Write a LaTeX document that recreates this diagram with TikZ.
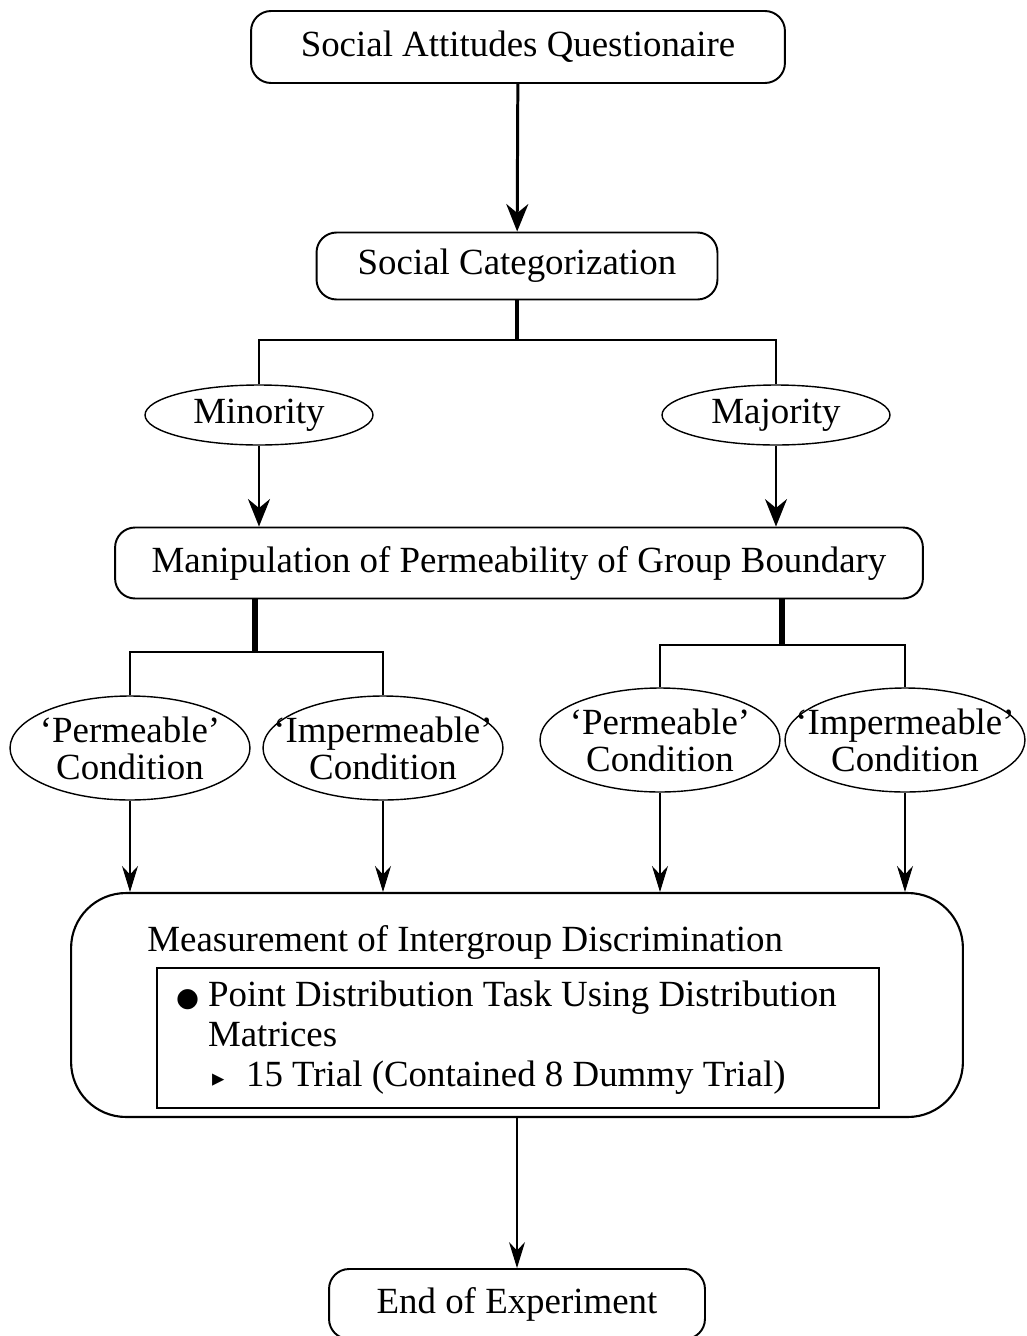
\documentclass[tikz,border=0pt]{standalone}
\usepackage{fontspec}
\setmainfont{Liberation Serif}
\newfontfamily\symfont{DejaVu Sans}
\usetikzlibrary{shapes.geometric}
\usetikzlibrary{arrows.meta}
\usetikzlibrary{positioning}

\tikzset{
  stepbox/.style={draw, line width=1.1pt, rounded corners=0.4cm, inner sep=0pt},
  groupell/.style={ellipse, draw, line width=0.8pt, inner sep=0pt, minimum width=4.56cm, minimum height=1.2cm},
  condell/.style={ellipse, draw, line width=0.8pt, inner sep=0pt, minimum width=4.8cm, minimum height=2.08cm},
  condtext/.style={align=center, inner sep=0pt},
  bigarrow/.style={-{Stealth[length=0.55cm,width=0.44cm]}},
  smallarrow/.style={-{Stealth[length=0.52cm,width=0.32cm]}, line width=0.6pt},
}

\begin{document}
\begin{tikzpicture}[x=0.02cm, y=-0.02cm, font=\fontsize{21}{21}\selectfont]
        \useasboundingbox (0,0) rectangle (1027,1336);

        % Top of the procedure
        \node[stepbox, minimum width=10.68cm, minimum height=1.44cm] (quest) at (518,47) {Social Attitudes Questionaire};
        \node[stepbox, minimum width=8.02cm, minimum height=1.34cm] (soccat) at (517,266) {Social Categorization};
        \draw[bigarrow, line width=1.7pt] (quest) -- (soccat);

        % Minority / majority split
        \node[groupell] (minor) at (259,415) {Minority};
        \node[groupell] (major) at (776,415) {Majority};
        \coordinate (split) at (soccat.south |- 0,340);
        \draw[line width=2pt] (soccat.south) -- (split);
        \draw[line width=0.8pt] (minor.north) |- (split) -| (major.north);

        \node[stepbox, minimum width=16.16cm, minimum height=1.42cm] (manip) at (519,563) {Manipulation of Permeability of Group Boundary};
        \draw[bigarrow, line width=1.5pt] (minor) -- (minor |- manip.north);
        \draw[bigarrow, line width=0.8pt] (major) -- (major |- manip.north);

        % Permeability conditions
        \node[condell, label={[condtext]center:{`Permeable'\\Condition}}] (perm1) at (130,748) {};
        \node[condell, label={[condtext]center:{`Impermeable'\\Condition}}] (imperm1) at (383,748) {};
        \node[condell, label={[condtext]center:{`Permeable'\\Condition}}] (perm2) at (660,740) {};
        \node[condell, label={[condtext]center:{`Impermeable'\\Condition}}] (imperm2) at (905,740) {};

        \coordinate (lsplit) at (255,652);
        \coordinate (rsplit) at (782,645);
        \draw[line width=3.4pt] (lsplit |- manip.south) -- (lsplit);
        \draw[line width=3.4pt] (rsplit |- manip.south) -- (rsplit);
        \draw[line width=1.5pt] (perm1.north) |- (lsplit) -| (imperm1.north);
        \draw[line width=1.5pt] (perm2.north) |- (rsplit) -| (imperm2.north);

        % Measurement block
        \node[draw, line width=1.2pt, rounded corners=1.1cm, minimum width=17.84cm, minimum height=4.48cm] (meas) at (517,1005) {};
        \node[anchor=west, inner sep=0pt] (meastitle) at (147,942) {Measurement of Intergroup Discrimination};
        \node[draw, line width=1.1pt, text width=13.68cm, inner xsep=0.38cm, minimum height=2.8cm, align=flush left,
              font=\fontsize{21}{22.8}\selectfont] (task) at (518,1038)
              {\makebox[0.64cm][l]{\symfont\fontsize{15}{15}\selectfont ●}Point Distribution Task Using Distribution\\
               \hspace*{0.64cm}Matrices\\
               \hspace*{0.72cm}\makebox[0.68cm][l]{\symfont\fontsize{14}{14}\selectfont ▸}15 Trial (Contained 8 Dummy Trial)};

        \foreach \cond in {perm1, imperm1, perm2, imperm2}
          \draw[smallarrow] (\cond) -- (\cond |- meas.north);

        % End
        \node[stepbox, minimum width=7.52cm, minimum height=1.4cm] (finish) at (517,1304) {End of Experiment};
        \draw[smallarrow] (meas) -- (finish);
\end{tikzpicture}
\end{document}
